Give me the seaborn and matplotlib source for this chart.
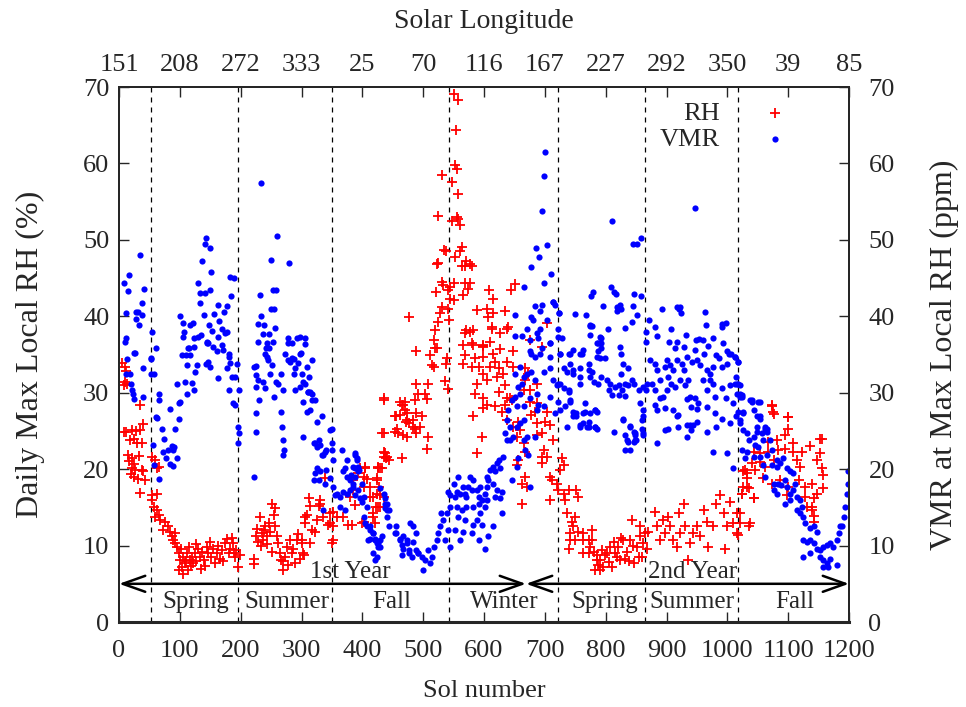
import pandas as pd
import seaborn as sns
import matplotlib
matplotlib.use('Agg')
import matplotlib.pyplot as plt

# Season boundaries (sol), labels and where the labels sit
season_edges = [53, 196, 350, 543, 722, 865, 1018]
season_names = ['Spring', 'Summer', 'Fall', 'Winter', 'Spring', 'Summer', 'Fall']
season_label_sols = [126, 276, 448, 634, 798, 942, 1111]
year_split = 669
year_labels = ['1st Year', '2nd Year']
year_label_sols = [380, 943]

# Top axis: solar longitude at every 100 sols
sol_ticks = [0, 100, 200, 300, 400, 500, 600, 700, 800, 900, 1000, 1100, 1200]
ls_labels = ['151', '208', '272', '333', '25', '70', '116', '167', '227', '292', '350', '39', '85']

# RH (%) readings, (sol, value), first Mars year
rh_year1 = [
    (5, 33.9), (10, 33.4), (12, 32.9), (10, 31.4), (13, 31.2), (8, 31.0), (35, 28.4), (8, 24.9), (18, 23.8),
    (12, 24.8), (21, 25.1), (28, 25.0), (35, 25.1), (40, 25.9), (25, 24.0), (30, 23.4), (37, 23.4), (14, 21.9),
    (33, 21.7), (21, 21.4), (17, 21.1), (24, 20.7), (21, 20.1), (19, 19.4), (26, 19.9), (25, 19.0), (32, 18.7),
    (40, 19.7), (42, 18.6), (37, 19.9), (35, 16.9), (55, 21.6), (59, 21.2), (62, 20.2), (66, 20.3), (55, 16.6),
    (63, 16.8), (54, 16.0), (58, 15.1), (59, 13.8), (62, 14.6), (65, 14.0),
    (67, 13.3), (76, 13.1), (81, 12.5), (73, 12.0), (84, 11.8), (87, 11.2), (89, 10.7), (92, 11.6), (95, 9.8),
    (98, 9.0), (100, 8.1), (98, 6.8), (103, 7.2), (106, 8.5), (108, 7.7), (111, 9.0), (114, 6.8), (117, 8.1),
    (120, 8.5), (122, 7.7), (125, 9.0), (130, 9.6), (133, 8.5), (139, 8.1), (144, 9.8), (147, 9.0), (150, 10.5),
    (152, 8.5), (158, 7.7), (161, 9.0), (166, 8.3), (169, 9.4), (174, 10.3), (177, 10.9), (180, 9.0), (182, 9.6),
    (188, 10.3), (191, 8.5), (193, 9.4), (196, 7.2), (199, 8.8), (92, 10.3), (102, 9.5), (105, 6.3), (110, 8.0),
    (115, 9.8), (119, 7.3), (127, 8.0), (136, 9.2), (141, 7.3), (155, 9.6), (163, 10.0), (171, 8.0), (185, 11.0),
    (189, 9.0), (127, 10.2), (135, 7.0),
    (222, 8.3), (222, 7.6), (226, 11.2), (229, 10.5), (232, 13.8), (235, 11.6), (237, 10.7), (240, 12.5),
    (243, 11.2), (246, 12.9), (248, 11.8), (251, 15.5), (254, 14.0), (256, 14.9), (259, 11.2), (262, 10.3),
    (265, 9.0), (267, 8.1), (270, 6.8), (273, 8.5), (276, 9.8), (281, 10.7), (284, 9.0), (289, 7.7), (292, 10.7),
    (298, 8.3), (300, 10.7), (303, 9.0), (309, 14.0), (314, 15.2), (317, 12.0), (322, 11.8), (325, 13.3),
    (330, 15.5), (336, 13.8), (344, 12.7), (347, 14.2), (352, 10.7), (227, 12.2), (233, 10.0), (238, 12.0),
    (244, 10.2), (251, 9.2), (257, 12.5), (270, 8.0), (278, 7.5), (286, 9.5), (295, 11.5), (306, 13.0),
    (312, 16.2), (306, 13.8), (300, 10.3), (314, 10.3), (304, 8.8), (339, 18.8), (330, 16.0), (328, 15.2),
    (352, 14.4), (358, 13.8), (347, 12.9), (352, 12.5), (350, 10.3), (369, 13.8), (377, 12.7), (380, 16.4),
    (385, 17.3), (388, 15.3), (396, 20.1), (404, 20.2), (393, 19.5), (407, 18.7), (413, 17.7), (417, 16.4),
    (424, 18.6), (428, 17.7), (429, 16.6), (426, 15.1), (422, 15.1), (418, 13.8), (399, 12.9), (425, 20.2),
    (429, 20.2), (435, 22.3), (439, 21.4), (443, 21.2), (465, 21.4), (383, 12.7), (402, 13.1), (402, 17.7),
    (413, 16.4), (424, 16.8), (429, 15.1), (435, 16.4), (418, 14.2), (421, 12.9), (385, 18.6), (426, 20.3),
    (435, 21.6), (437, 22.1), (404, 20.3), (432, 20.1), (402, 19.0), (424, 18.8), (440, 21.6),
    (435, 29.3), (456, 27.0), (462, 28.8), (465, 28.4), (470, 28.8), (473, 27.3), (472, 26.2), (476, 26.0),
    (487, 29.0), (489, 27.3), (484, 25.5), (489, 24.7), (432, 24.7), (454, 24.9), (459, 24.7), (473, 24.2),
    (489, 35.4), (520, 35.8), (514, 33.6), (517, 33.4), (539, 34.5), (538, 33.8), (541, 30.5), (536, 31.6),
    (508, 31.2), (503, 29.9), (506, 29.2), (489, 31.2), (492, 29.9), (435, 29.0), (467, 28.4), (462, 27.1),
    (470, 27.7), (473, 26.4), (454, 26.9), (457, 25.3), (467, 24.5), (484, 26.4), (487, 25.3), (498, 26.9),
    (495, 25.5), (508, 24.2), (507, 22.7), (435, 24.7),
    (550, 69.1), (558, 68.3), (554, 64.4), (552, 59.8), (555, 59.3), (531, 58.5), (548, 57.6), (558, 56.0),
    (525, 53.1), (555, 53.0), (558, 52.7), (547, 52.5), (561, 51.9), (535, 48.7), (538, 48.5), (563, 49.1),
    (561, 48.5), (552, 47.8), (525, 47.0), (523, 46.8), (571, 47.3), (563, 46.6), (569, 46.6), (580, 46.6),
    (577, 46.8), (531, 44.5), (533, 44.1), (544, 43.9), (550, 44.4), (541, 43.4), (544, 42.3), (550, 42.1),
    (521, 43.2), (569, 44.3), (574, 43.6), (577, 44.3), (566, 42.8), (531, 41.2), (528, 40.4), (541, 40.9),
    (543, 39.5), (525, 39.3), (520, 38.2), (517, 36.9), (522, 35.8), (476, 39.9), (511, 34.9), (588, 40.8),
    (605, 40.9), (607, 39.9), (615, 40.4), (609, 43.5), (614, 42.2), (635, 40.7), (644, 43.4), (651, 44.2),
    (571, 38.2), (577, 38.0), (569, 37.8), (582, 38.2), (580, 36.5), (598, 36.1), (610, 36.7), (626, 35.7),
    (613, 38.4), (638, 38.4), (648, 35.5), (613, 38.6), (626, 37.8), (640, 38.6), (599, 36.0), (618, 34.0),
    (637, 34.0), (624, 33.2), (648, 33.4), (566, 36.2), (582, 36.2), (599, 36.2), (615, 35.1), (569, 34.9),
    (585, 34.5), (599, 34.7), (566, 33.8), (580, 33.4), (591, 33.4), (610, 33.4), (599, 32.5), (588, 31.2),
    (605, 31.7), (621, 32.1), (632, 32.5), (635, 31.0), (624, 30.1), (637, 29.3), (646, 29.0), (667, 33.2),
    (667, 31.7), (665, 30.3), (585, 29.9), (599, 29.3), (605, 28.4), (599, 28.0), (582, 26.9), (618, 28.2),
    (635, 28.4), (643, 29.3), (596, 24.2), (588, 22.1), (629, 27.5), (637, 26.4), (648, 25.5), (656, 26.2),
    (659, 25.1), (654, 24.2), (665, 23.4), (667, 22.3), (656, 21.2), (654, 20.5), (667, 19.0), (662, 18.1),
    (662, 15.5),
]

# RH (%) readings, second Mars year
rh_year2 = [
    (676, 36.9), (695, 36.0), (703, 39.1), (673, 32.5), (676, 30.3), (687, 31.2), (676, 28.8), (687, 28.6),
    (684, 27.5), (678, 27.1), (687, 26.0), (700, 26.2), (703, 27.5), (709, 25.8), (714, 23.8), (695, 24.7),
    (687, 24.5), (670, 17.7), (698, 22.5), (695, 21.6), (703, 21.6), (695, 20.8), (709, 19.0), (711, 18.6),
    (709, 16.0), (720, 18.1), (722, 17.3), (728, 21.4), (731, 20.5), (725, 19.9), (731, 16.8), (739, 17.3),
    (752, 17.3), (755, 16.4), (733, 16.0), (736, 14.2), (744, 13.1), (750, 13.8), (747, 12.5), (755, 11.8),
    (741, 11.6), (741, 10.7), (739, 9.6), (750, 10.7), (763, 11.6), (763, 10.7), (772, 10.7), (774, 9.8),
    (763, 9.0), (772, 9.0), (785, 8.1), (791, 6.8),
    (777, 12.0), (777, 10.7), (780, 9.2), (783, 6.8), (791, 8.1), (796, 7.2), (802, 9.0), (805, 7.9),
    (813, 10.5), (815, 9.0), (821, 9.8), (824, 8.1), (829, 10.7), (835, 9.2), (840, 10.7), (843, 13.3),
    (846, 7.7), (851, 9.8), (857, 11.2), (859, 8.5), (862, 10.3), (865, 11.6), (785, 8.8), (794, 9.4),
    (807, 9.8), (810, 7.2), (832, 8.3), (854, 8.5), (788, 7.5), (799, 8.8), (818, 8.5), (826, 11.0),
    (838, 8.0), (845, 10.0), (856, 12.5), (868, 9.5),
    (870, 11.8), (881, 14.4), (884, 12.5), (889, 10.7), (895, 13.3), (898, 11.6), (903, 13.8), (906, 12.5),
    (911, 10.7), (917, 9.8), (920, 14.2), (922, 11.6), (928, 15.5), (930, 12.5), (936, 8.1), (939, 10.3),
    (944, 11.6), (950, 12.5), (955, 11.2), (961, 14.7), (966, 13.1), (969, 9.8), (977, 12.5), (982, 15.5),
    (988, 16.6), (994, 14.2), (996, 9.6), (999, 12.5), (1005, 15.7), (1010, 12.9), (1016, 11.6), (1021, 14.2),
    (1024, 16.8), (1026, 17.7), (1032, 19.5), (1032, 17.7), (1037, 12.9), (1043, 16.2), (1026, 19.7),
    (1074, 28.3), (1076, 27.2), (1099, 26.8), (1100, 25.2), (1095, 24.5), (1067, 23.6), (1081, 23.8),
    (1108, 23.4), (1136, 23.0), (1156, 23.9), (1043, 22.3), (1054, 22.1), (1067, 22.3), (1084, 22.5),
    (1095, 22.7), (1108, 22.3), (1122, 22.3), (1152, 22.1), (1029, 19.9), (1040, 20.8), (1054, 21.0),
    (1062, 20.3), (1076, 21.2), (1114, 21.2), (1120, 20.3), (1147, 21.2), (1155, 20.1), (1032, 18.8),
    (1046, 19.9), (1059, 18.8), (1073, 18.1), (1087, 18.6), (1100, 17.7), (1117, 18.6), (1128, 17.7),
    (1139, 18.1), (1158, 19.2), (1158, 17.5), (1035, 17.5), (1024, 16.8), (1043, 16.2), (1098, 16.6),
    (1128, 16.4), (1142, 16.2), (1131, 15.1), (1139, 14.7), (1142, 13.9), (1016, 14.2), (1021, 12.9),
    (1035, 12.6), (1018, 11.4), (1073, 28.4), (1075, 27.5), (1100, 26.8), (1152, 24.0), (1147, 16.8),
    (1139, 15.1), (1142, 13.1),
]

# VMR (ppm) at the time of max RH, first Mars year
vmr_year1 = [
    (9, 44.4), (16, 45.4), (15, 43.3), (11, 40.4), (34, 48.0), (41, 43.6), (38, 41.8), (28, 40.6), (32, 40.6),
    (37, 40.2), (28, 39.7), (33, 38.9), (11, 37.1), (25, 35.2), (13, 34.4), (55, 37.9), (60, 35.9), (53, 34.5),
    (10, 36.7), (26, 35.2), (11, 32.5), (18, 32.5), (20, 31.1), (22, 30.4), (23, 29.9), (24, 29.2), (39, 29.5),
    (40, 33.3), (53, 34.4), (53, 32.5), (58, 32.5), (65, 29.9), (65, 29.0), (61, 26.8), (62, 26.7), (56, 23.1),
    (58, 20.6), (66, 18.7), (71, 25.2), (74, 24.0), (72, 22.3), (81, 22.5), (87, 23.0), (78, 21.5), (84, 20.7),
    (84, 27.9), (92, 25.3), (96, 21.4), (89, 20.4), (90, 22.9), (88, 22.5), (98, 26.6), (99, 28.6), (101, 28.8),
    (96, 31.2), (103, 34.9), (110, 34.9), (117, 34.9), (108, 31.4), (120, 31.3), (112, 33.6), (125, 32.7),
    (115, 35.9), (123, 36.0), (111, 29.9), (124, 30.4), (128, 33.6), (143, 33.8), (147, 34.0), (150, 33.4),
    (144, 36.7), (147, 36.5), (162, 31.9), (177, 33.2), (181, 30.4), (182, 33.9), (186, 32.1), (191, 32.1),
    (190, 28.4), (187, 28.6), (194, 33.8), (198, 30.4), (196, 25.5), (197, 24.7), (196, 23.4),
    (101, 40.0), (105, 39.1), (117, 38.8), (121, 39.1), (107, 38.0), (105, 37.3), (114, 35.8), (123, 37.1),
    (130, 44.4), (133, 43.0), (141, 43.1), (136, 47.2), (143, 50.3), (142, 49.4), (149, 48.9), (151, 45.8),
    (150, 43.5), (133, 41.7), (139, 40.2), (148, 38.8), (156, 40.3), (163, 41.5), (165, 39.4), (169, 38.4),
    (174, 37.8), (177, 38.0), (173, 40.5), (178, 41.4), (182, 45.2), (189, 45.0), (184, 42.6), (135, 37.5),
    (130, 37.3), (153, 38.1), (163, 37.3), (145, 36.5), (155, 36.0), (161, 35.4), (170, 36.2), (171, 35.6),
    (180, 35.1), (181, 34.7),
    (233, 57.5), (250, 47.4), (259, 50.5), (280, 47.0), (232, 42.8), (253, 43.4), (258, 43.4), (250, 40.9),
    (255, 40.9), (233, 40.1), (229, 39.0), (239, 38.9), (257, 38.5), (236, 37.7), (247, 37.7), (228, 36.6),
    (253, 36.6), (242, 35.8), (246, 35.8), (243, 34.7), (278, 37.1), (292, 37.2), (298, 37.3), (284, 36.5),
    (306, 37.1), (306, 36.4), (299, 35.2), (287, 34.4), (278, 34.3), (222, 33.4), (226, 33.5), (225, 32.3),
    (229, 31.7), (226, 30.8), (237, 31.4), (240, 30.6), (222, 19.0), (225, 24.8), (230, 29.0), (226, 27.3),
    (243, 36.5), (240, 35.1), (245, 34.3), (251, 33.6), (248, 32.5), (255, 29.5), (258, 31.4), (262, 31.2),
    (267, 32.5), (270, 30.4), (266, 27.5), (268, 25.5), (270, 23.8), (271, 22.5), (269, 21.8), (273, 35.1),
    (278, 36.5), (281, 34.0), (284, 34.5), (287, 32.5), (289, 33.2), (295, 33.9), (298, 35.1), (300, 32.5),
    (303, 31.4), (306, 31.2), (311, 30.1), (314, 30.1), (309, 33.4), (313, 32.1), (317, 34.3), (289, 30.3),
    (298, 30.8), (303, 28.8), (303, 24.2), (309, 27.5), (317, 29.0), (314, 27.7), (322, 29.0), (325, 26.2),
    (328, 23.8), (320, 23.4), (330, 23.2), (336, 21.8), (341, 22.5), (350, 22.5), (347, 25.1),
    (311, 30.1), (317, 29.9), (333, 26.9), (350, 25.3), (322, 23.4), (325, 22.9), (350, 23.4), (339, 22.3),
    (333, 21.8), (352, 21.2), (366, 22.5), (374, 21.2), (388, 21.8), (391, 21.2), (325, 20.1), (322, 19.5),
    (330, 19.7), (328, 18.6), (320, 18.6), (341, 19.9), (347, 18.8), (339, 18.1), (352, 17.7), (372, 20.1),
    (369, 19.7), (374, 19.0), (380, 18.6), (382, 19.2), (385, 18.1), (388, 20.1), (393, 20.3), (395, 19.9),
    (355, 16.6), (358, 16.8), (363, 16.4), (369, 17.0), (374, 16.8), (380, 17.3), (385, 17.7), (388, 16.6),
    (393, 17.3), (396, 16.2), (399, 15.7), (336, 14.7), (363, 15.1), (372, 14.7), (402, 13.8), (404, 12.9),
    (407, 12.5), (413, 12.0), (418, 11.6), (413, 10.9), (421, 10.9), (424, 10.3), (429, 10.7), (429, 9.8),
    (418, 9.0), (421, 8.1), (426, 9.8), (432, 11.2), (410, 10.7), (437, 16.2), (440, 15.5), (437, 14.9),
    (443, 14.7), (440, 13.8), (443, 12.5), (456, 12.5), (456, 11.6), (462, 10.7), (467, 11.2), (473, 10.3),
    (476, 9.4), (465, 8.8), (478, 12.9), (484, 12.5), (489, 9.4), (492, 9.0),
    (388, 22.1), (391, 21.4), (385, 20.3), (393, 19.7), (388, 19.0), (399, 18.1), (402, 16.4), (407, 15.1),
    (429, 17.5), (435, 16.8), (437, 15.5), (440, 14.7), (413, 12.5), (418, 11.6), (421, 10.7), (426, 10.3),
    (424, 8.5), (454, 11.6), (462, 10.9), (465, 10.1), (467, 9.6), (476, 9.0), (481, 8.5), (473, 10.7),
    (484, 10.5), (489, 11.6), (492, 9.0), (498, 8.5), (500, 6.8), (503, 8.1), (508, 9.4), (514, 8.5),
    (511, 7.7), (517, 9.8), (522, 10.7), (525, 11.6), (528, 12.5), (533, 13.3), (530, 14.2), (539, 14.2),
    (536, 10.7), (541, 12.0), (544, 9.8),
    (541, 17.0), (544, 16.6), (552, 16.4), (558, 19.0), (550, 18.1), (555, 17.0), (561, 16.8), (566, 17.7),
    (569, 16.8), (571, 16.4), (574, 17.7), (577, 19.0), (582, 18.6), (580, 17.3), (588, 17.3), (591, 16.4),
    (593, 17.7), (544, 15.1), (555, 15.1), (563, 14.7), (571, 15.1), (582, 15.1), (591, 15.5), (596, 16.0),
    (602, 16.8), (605, 17.7), (607, 18.6), (610, 19.9), (615, 20.3), (618, 19.7), (621, 20.8), (624, 21.2),
    (626, 20.1), (605, 19.0), (615, 18.1), (621, 17.3), (629, 17.0), (626, 16.2), (629, 14.2), (605, 16.0),
    (602, 15.1), (593, 14.2), (588, 13.3), (582, 12.7), (569, 13.3), (558, 13.8), (552, 12.0), (566, 11.8),
    (602, 9.5), (580, 11.6), (561, 10.7), (607, 11.2), (615, 12.5), (596, 12.7), (591, 10.7), (618, 16.4),
    (632, 21.6), (637, 23.8), (635, 24.7), (643, 23.8), (648, 24.2), (654, 25.5), (659, 26.0), (665, 26.4),
    (643, 25.5), (637, 26.4), (640, 27.7), (646, 29.0), (651, 29.5), (654, 28.2), (659, 29.9), (656, 30.8),
    (662, 31.2), (665, 32.1), (651, 32.5), (659, 33.4), (665, 28.2), (665, 23.8), (667, 22.5), (646, 18.6),
    (654, 20.3), (656, 21.4), (666, 43.8), (651, 40.2), (651, 37.4), (663, 37.4),
]

# VMR (ppm), second Mars year
vmr_year2 = [
    (670, 32.5), (678, 32.7), (684, 31.7), (676, 29.3), (687, 29.9), (689, 28.4), (698, 28.2), (687, 27.7),
    (670, 24.2), (676, 17.7), (673, 21.8), (684, 24.2), (698, 32.7), (709, 33.2), (714, 31.7), (722, 31.2),
    (725, 35.1), (741, 35.1), (758, 35.1), (763, 35.6), (709, 34.7), (695, 35.8), (709, 36.5), (678, 35.1),
    (692, 35.1), (736, 32.7), (747, 32.5), (758, 32.1), (774, 32.1), (772, 33.0), (758, 31.2), (731, 30.6),
    (739, 30.1), (722, 28.8), (741, 28.8), (747, 27.5), (752, 26.9), (766, 27.5), (774, 27.3), (763, 26.0),
    (736, 25.5), (758, 25.5), (772, 25.5), (785, 27.5), (783, 25.5),
    (701, 61.5), (699, 58.3), (695, 53.8), (685, 49.0), (703, 49.3), (690, 47.7), (678, 46.4), (710, 45.6),
    (699, 44.3), (779, 43.2), (776, 42.6), (684, 41.3), (696, 41.5), (692, 40.7), (713, 41.9), (716, 41.5),
    (724, 40.4), (750, 40.3), (768, 40.2), (678, 39.9), (681, 39.5), (704, 39.5), (774, 38.7), (778, 38.7),
    (774, 37.5), (670, 38.4), (692, 38.3), (687, 37.8), (689, 37.1), (676, 36.9), (709, 36.5), (722, 38.4),
    (722, 37.3), (729, 37.1), (725, 35.1), (739, 35.1), (676, 35.4), (684, 34.7), (788, 36.5), (785, 34.7),
    (791, 37.3),
    (947, 54.2), (810, 52.5), (845, 49.5), (851, 49.5), (858, 50.3), (809, 43.9), (813, 43.2), (817, 42.9),
    (846, 42.9), (858, 42.6), (795, 41.3), (824, 41.5), (819, 41.2), (818, 40.7), (826, 40.9), (845, 41.3),
    (852, 40.2), (892, 40.9), (917, 41.2), (922, 41.2), (923, 40.4), (920, 40.9), (871, 39.5), (963, 40.6),
    (965, 38.8), (992, 39.0), (997, 39.1), (723, 40.4), (714, 41.9), (774, 38.8), (792, 37.1), (793, 36.5),
    (804, 38.4), (832, 38.5), (843, 39.2), (867, 38.0), (867, 36.6), (881, 38.6), (885, 37.4), (907, 38.3),
    (904, 36.7), (917, 36.7), (914, 35.8), (932, 37.5), (929, 36.0), (949, 36.9), (954, 37.0), (960, 36.9),
    (969, 36.1), (976, 37.1), (991, 38.6), (993, 36.5), (1000, 35.4), (1003, 35.1), (1012, 34.7), (1018, 34.0),
    (1014, 32.1), (1016, 31.2), (785, 36.5), (793, 35.8), (788, 35.4), (790, 34.5), (799, 34.5), (824, 36.0),
    (826, 35.1), (829, 33.8), (837, 33.2), (843, 31.7), (826, 32.5), (815, 30.8), (747, 35.6), (761, 35.1),
    (741, 33.8), (747, 33.0), (758, 33.2), (772, 33.8), (777, 32.7), (780, 31.4), (731, 33.2), (725, 31.2),
    (720, 31.0), (709, 29.5), (717, 27.3), (725, 27.7), (733, 28.2), (739, 30.3), (741, 29.0), (747, 26.9),
    (752, 27.3), (758, 25.8), (769, 25.5), (772, 26.2), (783, 25.5), (766, 28.6), (783, 27.7), (763, 27.3),
    (788, 31.2), (793, 32.1), (802, 31.7), (807, 31.2), (805, 30.3), (811, 29.7), (822, 31.0), (822, 29.7),
    (827, 30.3), (832, 31.2), (832, 29.6), (837, 31.0), (846, 31.2), (854, 30.3), (862, 30.8), (867, 30.3),
    (868, 31.2), (857, 28.6), (862, 27.7), (862, 26.9), (859, 25.3), (862, 24.5), (829, 26.6), (832, 24.5),
    (836, 23.6), (840, 25.5), (846, 24.9), (850, 23.8),
    (873, 34.3), (881, 33.8), (884, 33.0), (889, 31.7), (898, 33.4), (901, 34.3), (903, 32.1), (906, 33.6),
    (911, 33.0), (917, 34.3), (925, 33.8), (928, 33.0), (934, 34.7), (942, 34.0), (947, 35.6), (950, 34.3),
    (955, 33.6), (961, 35.1), (966, 33.0), (971, 32.5), (977, 33.4), (982, 34.9), (987, 34.5), (992, 33.4),
    (1000, 33.8), (1006, 35.1), (1012, 34.7), (1018, 34.0), (876, 31.2), (881, 30.3), (889, 29.3),
    (895, 29.5), (900, 30.3), (908, 31.2), (914, 30.8), (922, 31.7), (930, 31.0), (936, 31.7), (939, 29.5),
    (947, 29.3), (952, 28.6), (960, 31.7), (966, 30.3), (971, 31.7), (977, 31.2), (980, 29.5), (991, 30.6),
    (997, 29.3), (1005, 31.0), (1010, 28.6), (1018, 31.2), (1021, 29.5), (881, 28.4), (884, 27.7),
    (898, 28.0), (911, 27.7), (919, 27.1), (917, 26.9), (933, 29.2), (941, 28.1), (950, 27.9), (966, 28.1),
    (980, 27.3), (991, 26.6), (1005, 26.0), (944, 25.8), (933, 25.8), (919, 25.5), (898, 25.1), (903, 25.3),
    (884, 23.4), (849, 24.5), (846, 23.6), (966, 24.9), (982, 25.5), (1015, 26.9), (1021, 26.0), (1026, 27.3),
    (977, 22.3), (999, 22.1), (1010, 20.1), (933, 24.2), (941, 25.1), (939, 25.8), (950, 26.2), (813, 24.9),
    (829, 26.4), (835, 23.8), (840, 22.5), (832, 22.5), (848, 24.7), (848, 23.8), (840, 25.6), (859, 26.4),
    (861, 24.7), (785, 25.3), (783, 27.7),
    (1016, 29.9), (1024, 29.7), (1018, 27.5), (1026, 27.5), (1021, 26.4), (1040, 29.0), (1043, 27.7),
    (1051, 28.8), (1048, 26.9), (1054, 26.9), (1026, 25.1), (1032, 24.7), (1035, 23.8), (1043, 24.2),
    (1048, 25.5), (1062, 25.3), (1065, 24.9), (1059, 23.8), (1046, 23.2), (1051, 22.9), (1070, 23.8),
    (1024, 22.5), (1032, 22.3), (1029, 21.4), (1043, 21.6), (1054, 21.6), (1065, 21.8), (1073, 22.5),
    (1081, 21.2), (1087, 20.8), (1092, 21.4), (1098, 20.1), (1103, 19.7), (1108, 19.5), (1073, 20.5),
    (1081, 20.3), (1059, 20.5), (1062, 19.0), (1076, 18.1), (1084, 18.1), (1089, 17.9), (1098, 17.7),
    (1103, 16.8), (1108, 17.3), (1114, 16.4), (1120, 16.0), (1122, 15.1), (1114, 14.7), (1120, 14.2),
    (1125, 13.8), (1128, 12.9), (1136, 12.3), (1142, 12.5), (1147, 11.8), (1125, 10.7), (1131, 10.5),
    (1136, 10.7), (1142, 10.3), (1147, 9.6), (1152, 9.4), (1158, 9.8), (1163, 10.1), (1169, 10.3),
    (1174, 9.8), (1180, 10.7), (1183, 11.6), (1185, 12.5), (1191, 13.8), (1193, 15.1), (1196, 16.8),
    (1199, 18.1), (1199, 19.7), (1188, 12.5), (1125, 8.5), (1136, 9.0), (1152, 8.5), (1158, 8.1),
    (1163, 7.7), (1169, 8.3), (1180, 7.5), (1158, 7.2), (1166, 7.2), (1076, 17.3), (1081, 16.8),
    (1095, 15.5), (1103, 16.0), (1111, 18.1), (1095, 18.6), (1037, 29.0), (1040, 28.8), (1054, 28.8),
    (1021, 29.9), (1024, 29.5), (1013, 31.2), (1021, 31.0), (1054, 26.6), (1062, 25.5), (1065, 25.3),
    (1057, 24.7), (1048, 24.9),
]

rh_df = pd.DataFrame(rh_year1 + rh_year2, columns=['sol', 'value'])
vmr_df = pd.DataFrame(vmr_year1 + vmr_year2, columns=['sol', 'value'])

sns.set_style('ticks')
plt.rcParams['font.family'] = ['Liberation Serif', 'DejaVu Serif']
plt.rcParams['font.size'] = 18

fig = plt.figure(figsize=(9.66, 7.07), dpi=100)
ax = fig.add_axes([0.1232, 0.1202, 0.7557, 0.7567])

sns.scatterplot(data=rh_df, x='sol', y='value', marker='+', color='red', s=50,
                linewidth=1.3, label='RH', ax=ax, zorder=3)
sns.scatterplot(data=vmr_df, x='sol', y='value', marker='o', color='blue', s=20,
                linewidth=0, label='VMR', ax=ax, zorder=4)

ax.set_xlim(0, 1200)
ax.set_ylim(0, 70)

# season boundaries
for s in season_edges:
    ax.axvline(s, color='black', linestyle=(0, (4, 4)), linewidth=0.9, zorder=1)

# year arrows
arrow_kw = dict(arrowstyle='<->,head_length=0.9,head_width=0.32', lw=1.8, color='black',
                shrinkA=0, shrinkB=0)
ax.annotate('', xy=(0, 5), xytext=(year_split, 5), arrowprops=arrow_kw)
ax.annotate('', xy=(year_split, 5), xytext=(1200, 5), arrowprops=arrow_kw)
for name, x in zip(year_labels, year_label_sols):
    ax.text(x, 5.8, name, ha='center', va='baseline', fontsize=18)
for name, x in zip(season_names, season_label_sols):
    ax.text(x, 1.8, name, ha='center', va='baseline', fontsize=18)

ax.set_xticks(sol_ticks)
ax.set_yticks(range(0, 71, 10))
ax.tick_params(axis='x', direction='in', length=7, width=1, labelsize=19, pad=13)
ax.tick_params(axis='y', direction='in', length=7, width=1, labelsize=19, pad=7)
ax.set_xlabel('Sol number', fontsize=19, labelpad=13)
ax.set_ylabel('Daily Max Local RH (%)', fontsize=23, labelpad=27)
for sp in ax.spines.values():
    sp.set_linewidth(1.4)
ax.spines['bottom'].set_linewidth(2.2)

leg = ax.legend(loc='upper right', bbox_to_anchor=(0.955, 1.0), markerfirst=False, frameon=False,
                alignment='right', handletextpad=1.1, labelspacing=0.08, fontsize=19,
                borderaxespad=0.15)

# top axis: solar longitude
ax_top = ax.twiny()
ax_top.set_xlim(0, 1200)
ax_top.set_xticks(sol_ticks)
ax_top.set_xticklabels(ls_labels)
ax_top.tick_params(axis='x', direction='in', length=7, width=1, labelsize=19, pad=8)
ax_top.set_xlabel('Solar Longitude', fontsize=20, labelpad=19)

# right axis: VMR
ax_r = ax.twinx()
ax_r.set_ylim(0, 70)
ax_r.set_yticks(range(0, 71, 10))
ax_r.tick_params(axis='y', direction='in', length=7, width=1, labelsize=19, pad=14)
ax_r.set_ylabel('VMR at Max Local RH (ppm)', fontsize=23, labelpad=25)
for a in (ax_top, ax_r):
    for sp in a.spines.values():
        sp.set_linewidth(1.4)

fig.savefig('out.png', dpi=100)
